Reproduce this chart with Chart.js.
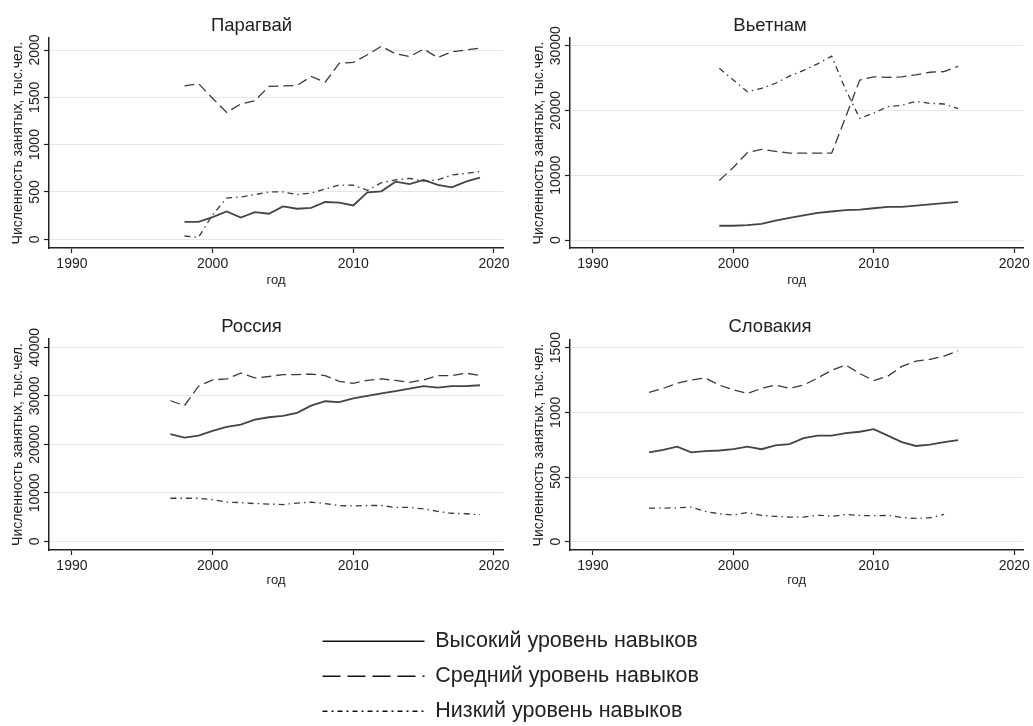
<!DOCTYPE html>
<html>
<head>
<meta charset="utf-8">
<script src="https://cdn.jsdelivr.net/npm/chart.js@4/dist/chart.umd.min.js"></script>
<style>
body{margin:0;background:#fff;width:1033px;height:726px;position:relative;overflow:hidden}
canvas{position:absolute}
</style>
</head>
<body>
<canvas id="c_py" width="516" height="290" style="left:0;top:0"></canvas>
<canvas id="c_vn" width="517" height="290" style="left:516px;top:0"></canvas>
<canvas id="c_ru" width="516" height="300" style="left:0;top:290px"></canvas>
<canvas id="c_sk" width="517" height="300" style="left:516px;top:290px"></canvas>
<canvas id="c_legend" width="470" height="240" style="left:309px;top:617px"></canvas>
<script>
// ---- data ----
const skillNames = ['Высокий уровень навыков', 'Средний уровень навыков', 'Низкий уровень навыков'];
const yTitle = 'Численность занятых, тыс.чел.';
const xTitle = 'год';
const xTicks = [1990, 2000, 2010, 2020];

// Парагвай
const pyYears = [1998,1999,2000,2001,2002,2003,2004,2005,2006,2007,2008,2009,2010,2011,2012,2013,2014,2015,2016,2017,2018,2019];
const pyHigh = [184,184,234,294,230,287,270,348,323,333,394,387,358,495,507,609,584,627,574,549,609,651];
const pyMid = [1620,1645,1490,1340,1430,1465,1615,1620,1625,1720,1660,1860,1870,1950,2040,1960,1930,2010,1920,1980,2000,2020];
const pyLow = [35,21,259,436,447,472,500,500,472,489,532,574,571,518,598,627,644,615,627,679,697,714];
const pyTicks = [0, 500, 1000, 1500, 2000];

// Вьетнам
const vnYears = [1999,2000,2001,2002,2003,2004,2005,2006,2007,2008,2009,2010,2011,2012,2013,2014,2015,2016];
const vnHigh = [2200,2200,2300,2500,3000,3400,3800,4200,4400,4600,4700,4900,5100,5100,5300,5500,5700,5900];
const vnMid = [9200,11200,13500,14000,13700,13400,13400,13400,13400,19000,24700,25200,25100,25200,25500,25900,26000,26800];
const vnLow = [26500,24700,22900,23400,24200,25300,26200,27200,28400,23200,18800,19600,20600,20800,21400,21100,21000,20300];
const vnTicks = [0, 10000, 20000, 30000];

// Россия
const ruYears = [1997,1998,1999,2000,2001,2002,2003,2004,2005,2006,2007,2008,2009,2010,2011,2012,2013,2014,2015,2016,2017,2018,2019];
const ruHigh = [22100,21400,21800,22800,23600,24100,25100,25600,25900,26500,28000,28900,28700,29500,30000,30500,31000,31500,32000,31700,32000,32000,32200];
const ruMid = [29000,28000,32000,33300,33500,34700,33700,34000,34400,34400,34500,34200,33000,32600,33200,33500,33200,32800,33300,34200,34200,34700,34200];
const ruLow = [8900,8900,8900,8600,8100,8000,7800,7700,7600,7900,8100,7800,7400,7300,7400,7400,7000,7000,6700,6200,5800,5700,5500];
const ruTicks = [0, 10000, 20000, 30000, 40000];

// Словакия
const skYears = [1994,1995,1996,1997,1998,1999,2000,2001,2002,2003,2004,2005,2006,2007,2008,2009,2010,2011,2012,2013,2014,2015,2016];
const skHigh = [690,710,735,690,700,705,715,735,715,745,755,800,820,820,840,850,870,820,770,740,750,770,785];
const skMid = [1155,1185,1225,1250,1265,1210,1175,1145,1185,1210,1185,1210,1265,1325,1365,1300,1245,1280,1355,1395,1410,1435,1475];
const skLow = [260,260,262,268,234,216,206,226,203,196,190,190,206,196,211,203,201,203,188,180,185,211,null];
const skTicks = [0, 500, 1000, 1500];

// ---- style ----
const FONT = "'Liberation Sans', Arial, sans-serif";
const INK = '#222';
const TITLE_SIZE = 18.5;
const lineStyles = [
    {borderColor: '#444', borderWidth: 1.8, borderDash: []},
    {borderColor: '#3a3a3a', borderWidth: 1.3, borderDash: [10, 5]},
    {borderColor: '#3a3a3a', borderWidth: 1.3, borderDash: [6, 4, 1.5, 4]}
];

function textWidth(txt, size){
    const ctx = document.createElement('canvas').getContext('2d');
    ctx.font = size + 'px ' + FONT;
    return ctx.measureText(txt).width;
}

function drawPanel(id, name, years, high, mid, low, yTicks, yMin, yMax, g){
    const toPoints = arr => years.map((yr, i) => ({x: yr, y: arr[i]}));
    const series = [high, mid, low];
    const widest = Math.max(...yTicks.map(v => textWidth(String(v), 14)));
    const halfTitle = TITLE_SIZE * 1.2 / 2;
    new Chart(document.getElementById(id), {
        type: 'line',
        data: {
            datasets: series.map((s, i) => Object.assign({label: skillNames[i], data: toPoints(s)}, lineStyles[i]))
        },
        options: {
            responsive: false,
            animation: false,
            layout: {padding: {left: 0, top: 0, right: g.w - g.right, bottom: 0}},
            elements: {point: {radius: 0}, line: {tension: 0, fill: false}},
            plugins: {
                legend: {display: false},
                tooltip: {enabled: false},
                title: {
                    display: true, text: name, color: INK,
                    font: {family: FONT, size: TITLE_SIZE, weight: 'normal'},
                    padding: {top: g.titleY - halfTitle, bottom: g.top - g.titleY - halfTitle}
                }
            },
            scales: {
                x: {
                    type: 'linear', min: 1988.37, max: 2020.64,
                    afterBuildTicks: s => { s.ticks = xTicks.map(v => ({value: v})); },
                    afterFit: s => { s.height = g.h - g.bottom; },
                    grid: {drawOnChartArea: false, tickLength: 5, tickColor: INK, tickWidth: 1.2},
                    border: {color: INK, width: 1.5},
                    ticks: {color: INK, font: {family: FONT, size: 14}, padding: 3, maxRotation: 0, callback: v => String(v)},
                    title: {display: true, text: xTitle, color: INK, font: {family: FONT, size: 13}, padding: {top: 0, bottom: g.xTitlePad}}
                },
                y: {
                    min: yMin, max: yMax,
                    afterBuildTicks: s => { s.ticks = yTicks.map(v => ({value: v})); },
                    afterFit: s => { s.width = g.left; },
                    grid: {color: '#e6e6e6', lineWidth: 1, tickLength: 5, tickColor: INK, tickWidth: 1.2},
                    border: {color: INK, width: 1.5},
                    ticks: {
                        color: INK, font: {family: FONT, size: 14},
                        minRotation: 90, maxRotation: 90, crossAlign: 'center',
                        padding: 9 - widest / 2, callback: v => String(v)
                    },
                    title: {display: true, text: yTitle, color: INK, font: {family: FONT, size: 14}, padding: {top: g.left - 31 - 8.4, bottom: 0}}
                }
            }
        }
    });
}

drawPanel('c_py', 'Парагвай', pyYears, pyHigh, pyMid, pyLow, pyTicks, -92, 2127,
    {w: 516, h: 290, left: 49, right: 503, top: 38, bottom: 248, titleY: 25.5, xTitlePad: 2});
drawPanel('c_vn', 'Вьетнам', vnYears, vnHigh, vnMid, vnLow, vnTicks, -1235, 31189,
    {w: 517, h: 290, left: 54, right: 508, top: 38, bottom: 248, titleY: 25.5, xTitlePad: 2});
drawPanel('c_ru', 'Россия', ruYears, ruHigh, ruMid, ruLow, ruTicks, -1773, 41732,
    {w: 516, h: 300, left: 49, right: 503, top: 49, bottom: 260, titleY: 37, xTitlePad: 1.5});
drawPanel('c_sk', 'Словакия', skYears, skHigh, skMid, skLow, skTicks, -64, 1559,
    {w: 517, h: 300, left: 54, right: 508, top: 50, bottom: 260, titleY: 37, xTitlePad: 1.5});

// ---- shared legend ----
const legendDash = [[], [18, 7], [5, 4, 2, 4]];
new Chart(document.getElementById('c_legend'), {
    type: 'line',
    data: {
        datasets: skillNames.map((n, i) => ({label: n, data: [], borderColor: '#111', borderWidth: 1.5, borderDash: legendDash[i]}))
    },
    options: {
        responsive: false,
        animation: false,
        scales: {x: {display: false}, y: {display: false}},
        plugins: {
            tooltip: {enabled: false},
            legend: {
                position: 'top', align: 'start',
                labels: {
                    usePointStyle: true, pointStyle: 'line', pointStyleWidth: 102,
                    color: INK, font: {family: FONT, size: 21.5}, padding: 13.5,
                    generateLabels: chart => Chart.defaults.plugins.legend.labels.generateLabels(chart)
                        .map((item, i) => Object.assign(item, {lineDash: legendDash[i], lineWidth: 1.5, strokeStyle: '#111'}))
                }
            }
        }
    }
});
</script>
</body>
</html>
